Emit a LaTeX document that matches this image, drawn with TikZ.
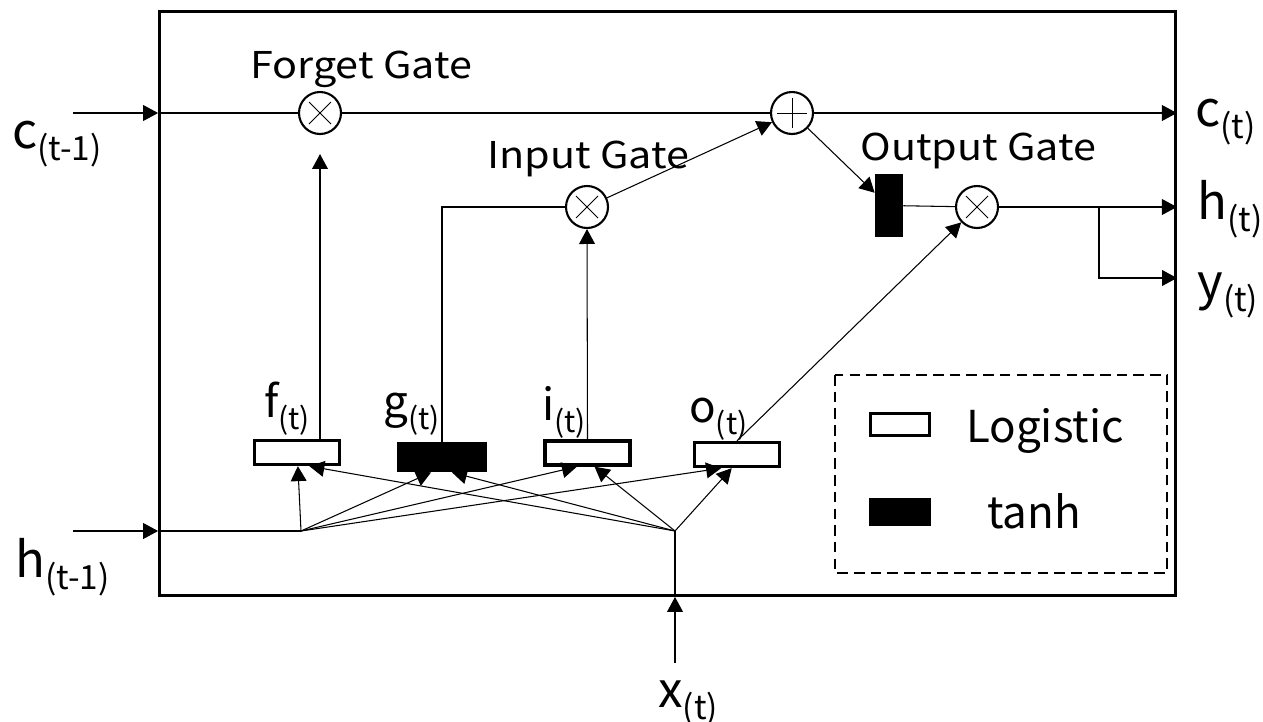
\documentclass[tikz,border=0pt]{standalone}
\usepackage{fontspec}
\setmainfont{Noto Sans CJK JP}
\newfontfamily\gatefont{Noto Sans CJK JP}[FakeStretch=1.12]
\usetikzlibrary{positioning}
\usetikzlibrary{calc}
\usetikzlibrary{arrows.meta}

% label with a subscript
\newcommand{\iolab}[2]{{\fontsize{28}{30}\selectfont #1}\raisebox{-7pt}{\fontsize{19}{20}\selectfont #2}}
\newcommand{\sublab}[2]{{\fontsize{25}{26}\selectfont #1}\raisebox{-7pt}{\fontsize{17}{18}\selectfont #2}}

\begin{document}
\begin{tikzpicture}[x=0.02cm, y=-0.02cm,
  arr/.style={-{Triangle[length=8.5pt,width=9pt]}, line width=0.6pt},
  conn/.style={line width=0.6pt},
  lab/.style={inner sep=0pt, anchor=base west},
  gatetext/.style={inner sep=0pt, anchor=base west, font=\gatefont\fontsize{21}{24}\selectfont},
  logi/.style={draw, line width=1.9pt, fill=white, minimum width=1.70cm, minimum height=0.48cm, inner sep=0pt},
  tanhbox/.style={fill=black, inner sep=0pt},
  mult/.style={circle, draw, line width=1.2pt, fill=white, minimum size=0.84cm, inner sep=0pt}]

\useasboundingbox (0,0) rectangle (1263,721);

%---------------------------------------
% Cell frame
%---------------------------------------
\node (cell) [draw, line width=1.4pt, minimum width=20.33cm, minimum height=11.69cm, inner sep=0pt] at (667.5,303.5) {};

%---------------------------------------
% Gates
%---------------------------------------
\node (forget) [mult] at (320,113) {};
\node (plus)   [mult] at (792,113) {};
\node (input)  [mult] at (587,207) {};
\node (output) [mult] at (977,207) {};

% x marks and + mark
\foreach \n in {forget,input,output} {
  \draw[line width=0.5pt] ([shift={(-11,-11)}]\n.center) -- ([shift={(11,11)}]\n.center);
  \draw[line width=0.5pt] ([shift={(-11,11)}]\n.center) -- ([shift={(11,-11)}]\n.center);
}
\draw[line width=0.5pt] ([shift={(-15,0)}]plus.center) -- ([shift={(15,0)}]plus.center);
\draw[line width=0.5pt] ([shift={(0,-15)}]plus.center) -- ([shift={(0,15)}]plus.center);

\node[gatetext] (forgetlab) at (250,78)  {Forget Gate};
\node[gatetext] (inputlab)  at (487,168) {Input Gate};
\node[gatetext] (outputlab) at (860,160) {Output Gate};

% activation boxes
\node (fbox) [logi] at (297,452.5) {};
\node (gbox) [tanhbox, minimum width=1.8cm, minimum height=0.6cm] at (442,457) {};
\node (ibox) [logi] at (587.5,453) {};
\node (obox) [logi] at (737,454.5) {};
\node (tanhc) [tanhbox, minimum width=0.56cm, minimum height=1.26cm] at (889,205.5) {};

\node[lab] (flab) at (264,417) {\sublab{f}{(t)}};
\node[lab] (glab) at (383,417) {\sublab{g}{(t)}};
\node[lab] (ilab) at (542,420) {\sublab{i}{(t)}};
\node[lab] (olab) at (689,422) {\sublab{o}{(t)}};

%---------------------------------------
% Inputs and outputs
%---------------------------------------
\coordinate (cin) at (73,113);
\coordinate (hin) at (73,531);
\coordinate (xin) at (675,663);
\coordinate (hj)  at (301,531);  % h junction
\coordinate (xj)  at (675,531);  % x junction
\coordinate (ybr) at (1099,206);
\coordinate (yout) at (1177,278);

\node[lab] (cprev) at (12,148)  {\iolab{c}{(t-1)}};
\node[lab] (hprev) at (15,577)  {\iolab{h}{(t-1)}};
\node[lab] (cnext) at (1195,126) {\iolab{c}{(t)}};
\node[lab] (hnext) at (1197,219) {\iolab{h}{(t)}};
\node[lab] (ynext) at (1197,299) {\iolab{y}{(t)}};
\node[lab] (xlab)  at (658,707) {\iolab{x}{(t)}};

% cell state
\draw[arr]  (cin) -- (cin -| cell.west);
\draw[conn] (cin -| cell.west) -- (forget);
\draw[conn] (forget) -- (plus);
\draw[arr]  (plus) -- (plus -| cell.east);

% hidden / input lines
\draw[arr]  (hin) -- (hin -| cell.west);
\draw[conn] (hin -| cell.west) -- (hj);
\draw[arr]  (xin) -- (xin |- cell.south);
\draw[conn] (xin |- cell.south) -- (xj);

% fan into the boxes
\foreach \b/\p/\q in {fbox/0.51/0.64, gbox/0.38/0.61, ibox/0.38/0.58, obox/0.32/0.44} {
  \draw[arr] (hj) -- ($(\b.south west)!\p!(\b.south east)$);
  \draw[arr] (xj) -- ($(\b.south west)!\q!(\b.south east)$);
}

% boxes to gates
\draw[arr, shorten >=0.38cm] (fbox.north -| forget) -- (forget.south);
\draw[conn] (gbox.north) |- (input.west);
\draw[arr]  (ibox.north) -- (input.south);
\draw[arr]  (obox.north) -- (output);
\draw[arr]  (input) -- (plus);
\draw[arr]  (plus) -- ($(tanhc.north west)!0.3!(tanhc.south west)$);
\draw[conn] (tanhc) -- (output);
\draw[arr]  (output) -- (output -| cell.east);
\draw[arr]  (ybr) |- (yout);

%---------------------------------------
% Legend
%---------------------------------------
\draw[line width=1.3pt, dash pattern=on 6pt off 3.5pt] (835,375) rectangle (1167,573);
\node (leglog) [draw, line width=1.7pt, minimum width=1.18cm, minimum height=0.44cm, inner sep=0pt] at (900,424.5) {};
\node (legtanh) [tanhbox, minimum width=1.24cm, minimum height=0.56cm] at (900,512) {};
\node (logtext)  [inner sep=0pt, anchor=base, font=\fontsize{25}{28}\selectfont] at (1045,442) {Logistic};
\node (tanhtext) [inner sep=0pt, anchor=base, font=\fontsize{25}{28}\selectfont] at (1034,528) {tanh};

\end{tikzpicture}
\end{document}
